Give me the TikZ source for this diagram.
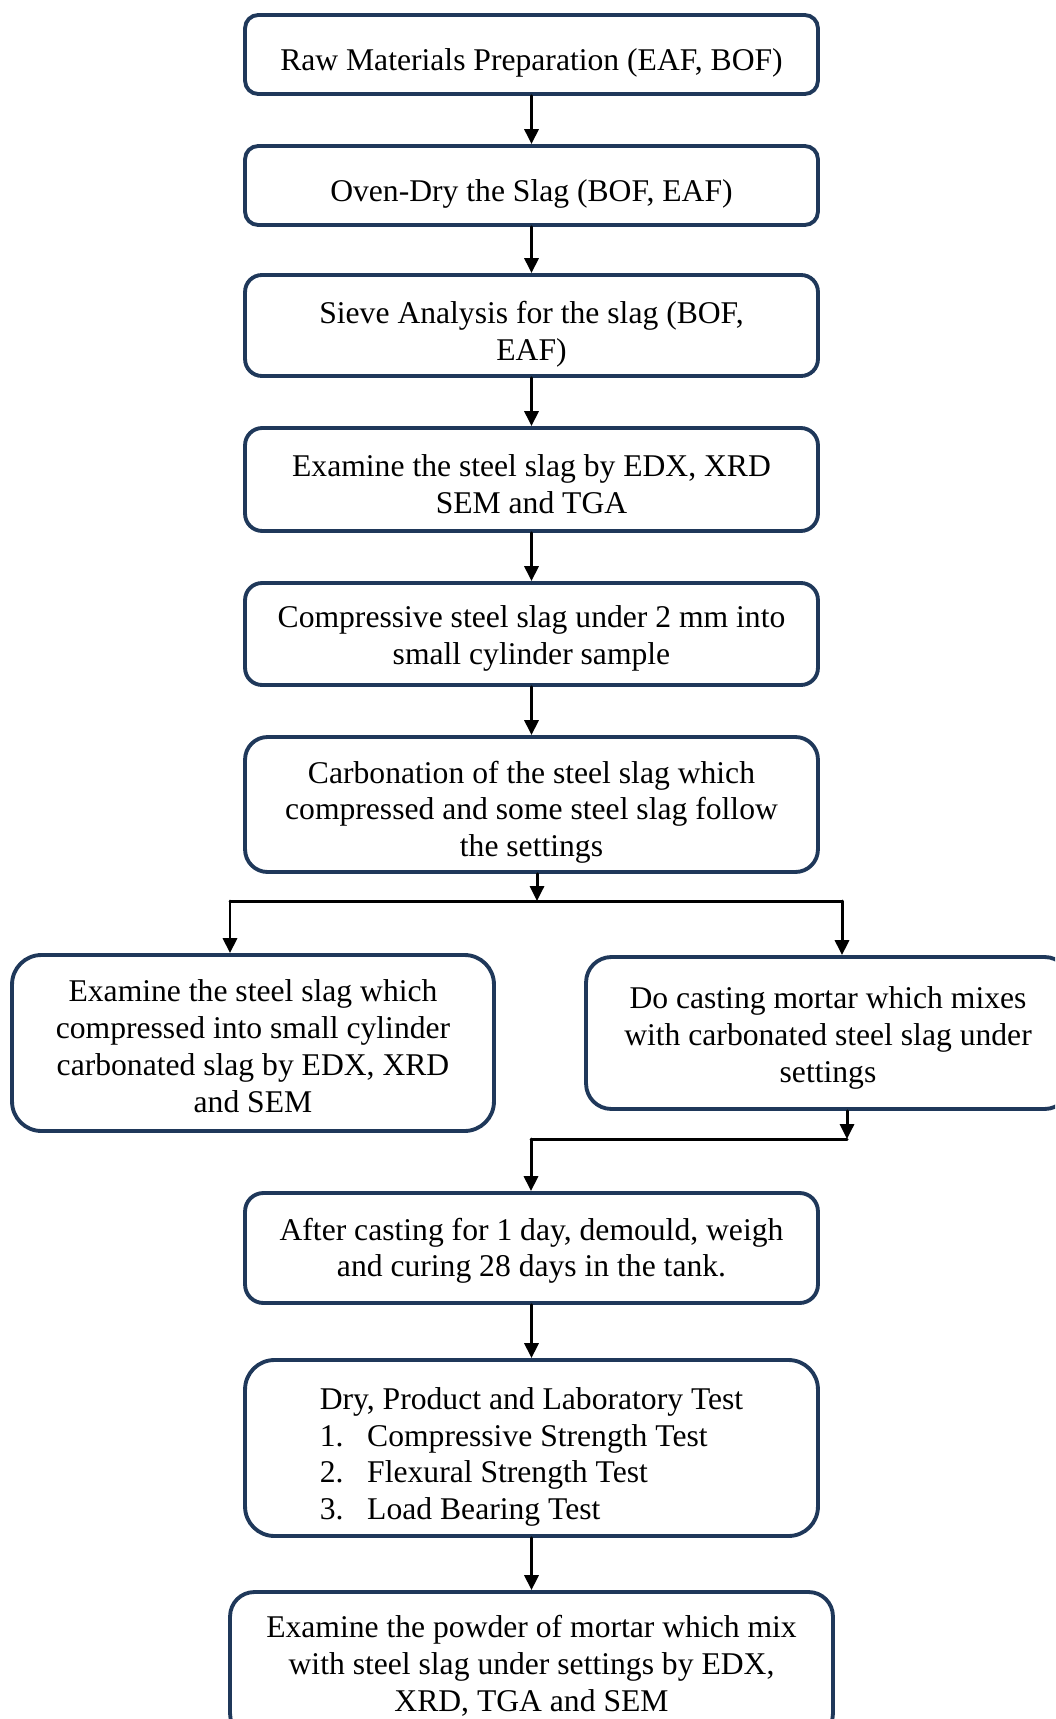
\documentclass[tikz,border=0pt]{standalone}
\usepackage{fontspec}
\setmainfont{Liberation Serif}
\usetikzlibrary{arrows.meta}
\definecolor{boxnavy}{RGB}{31,56,90}
\newcommand{\topgap}[1]{\rule{0pt}{#1}}
\begin{document}
\begin{tikzpicture}[line cap=round,line join=round,>={Triangle[length=8.5pt,width=8pt]},x=0.02cm,y=-0.02cm,
		stepbox/.style={draw=boxnavy,line width=2.2pt,minimum width=11.46cm,minimum height=#1,rounded corners=#1/6,
			align=center,inner sep=2pt,font=\fontsize{18}{21}\selectfont},
		arr/.style={->,line width=1.7pt}]
		\useasboundingbox (0,0) rectangle (1055,1719);
		\clip (0,0) rectangle (1055,1719);
		% main column
		\node[stepbox=1.58cm] (raw) at (531.5,54.5) {\topgap{22.6pt}Raw Materials Preparation (EAF, BOF)};
		\node[stepbox=1.58cm] (oven) at (531.5,185.5) {\topgap{22.6pt}Oven-Dry the Slag (BOF, EAF)};
		\node[stepbox=2.02cm] (sieve) at (531.5,325.5) {\topgap{22.6pt}Sieve Analysis for the slag (BOF,\\EAF)};
		\node[stepbox=2.06cm] (exam) at (531.5,479.5) {\topgap{18pt}Examine the steel slag by EDX, XRD\\SEM and TGA};
		\node[stepbox=2.04cm] (compress) at (531.5,634) {\topgap{18pt}Compressive steel slag under 2 mm into\\small cylinder sample};
		\node[stepbox=2.7cm] (carb) at (531.5,804.5) {\topgap{21.5pt}Carbonation of the steel slag which\\compressed and some steel slag follow\\the settings};
		% two branches
		\node[stepbox=3.52cm,minimum width=9.64cm] (exleft) at (253,1043) {\topgap{15.8pt}Examine the steel slag which\\compressed into small cylinder\\carbonated slag by EDX, XRD\\and SEM};
		\node[stepbox=3.04cm,minimum width=9.68cm] (cast) at (828,1033) {\topgap{18pt}Do casting mortar which mixes\\with carbonated steel slag under\\settings};
		\node[stepbox=2.2cm] (cure) at (531.5,1248) {\topgap{15.8pt}After casting for 1 day, demould, weigh\\and curing 28 days in the tank.};
		\node[stepbox=3.52cm,align=left] (test) at (531.5,1448) {\topgap{22.6pt}Dry, Product and Laboratory Test\\
			\makebox[1.5em][l]{1.}Compressive Strength Test\\
			\makebox[1.5em][l]{2.}Flexural Strength Test\\
			\makebox[1.5em][l]{3.}Load Bearing Test};
		\node[stepbox=2.92cm,minimum width=12.06cm] (powder) at (531.5,1665) {\topgap{13.6pt}Examine the powder of mortar which mix\\with steel slag under settings by EDX,\\XRD, TGA and SEM};
		\coordinate (split) at (537,901);
		\coordinate (splitL) at (230,901);
		\coordinate (splitR) at (842,901);
		\coordinate (joinR) at (847,1139);
		\coordinate (joinL) at (531,1139);
		\draw[arr] (raw) -- (oven);
		\draw[arr] (oven) -- (sieve);
		\draw[arr] (sieve) -- (exam);
		\draw[arr] (exam) -- (compress);
		\draw[arr] (compress) -- (carb);
		\draw[arr] (carb.south -| split) -- (split);
		\draw[line width=1.7pt] (splitL) -- (splitR);
		\draw[arr] (splitL) -- (exleft.north -| splitL);
		\draw[arr] (splitR) -- (cast.north -| splitR);
		\draw[arr] (cast.south -| joinR) -- (joinR);
		\draw[line width=1.7pt] (joinR) -- (joinL);
		\draw[arr] (joinL) -- (cure.north -| joinL);
		\draw[arr] (cure) -- (test);
		\draw[arr] (test) -- (powder);
\end{tikzpicture}
\end{document}
